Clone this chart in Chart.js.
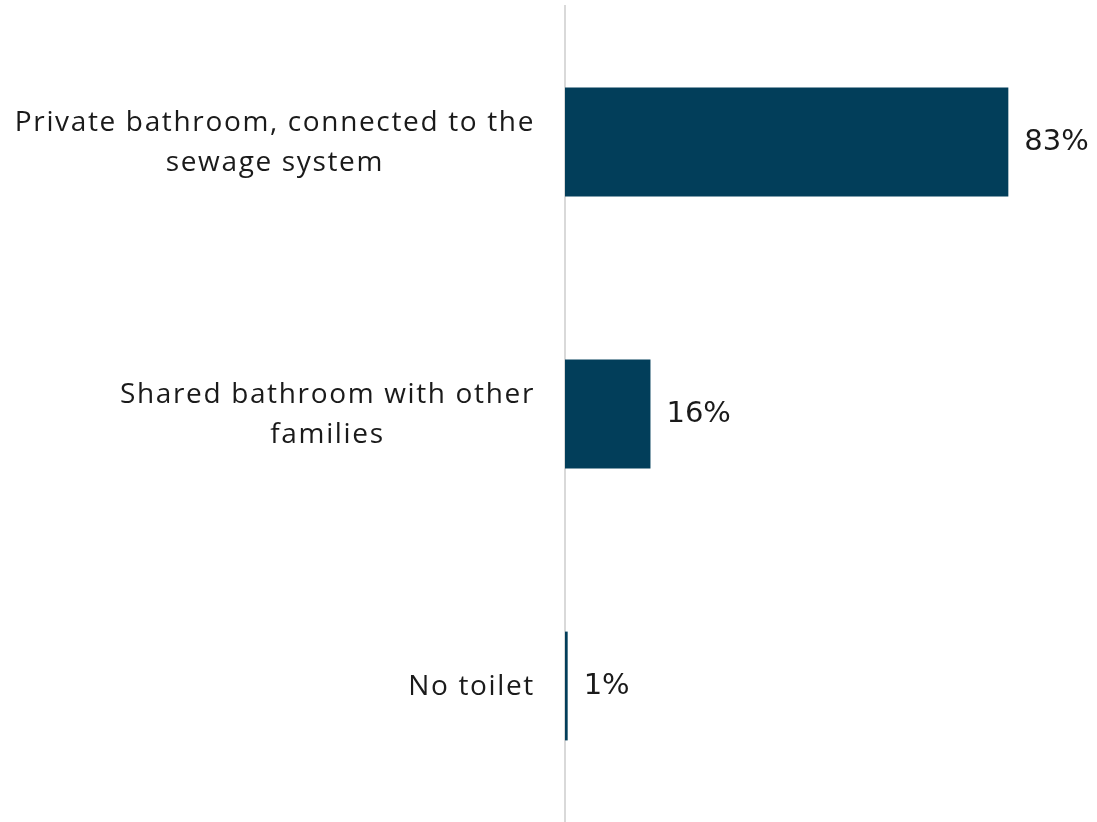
<!DOCTYPE html>
<html>
<head>
<meta charset="utf-8">
<script src="https://cdn.jsdelivr.net/npm/chart.js@4/dist/chart.umd.min.js"></script>
<style>
    body { margin: 0; background: #fff; }
    #wrap { width: 1097px; height: 822px; position: relative; }
</style>
</head>
<body>
<div id="wrap"><canvas id="toiletChart"></canvas></div>
<script>
const categories = [
    ['Private bathroom, connected to the', 'sewage system'],
    ['Shared bathroom with other', 'families'],
    ['No toilet']
];
const shares = [83, 16, 0.5];
const shareLabels = ['83%', '16%', '1%'];

const barColor = '#023e5a';
const textColor = '#1a1a1a';

// category labels: block right-aligned, lines centred inside the block
const categoryLabels = {
    id: 'categoryLabels',
    afterDraw(chart) {
        const ctx = chart.ctx;
        const yScale = chart.scales.y;
        const right = chart.chartArea.left - 30;
        const lineHeight = 40;
        ctx.save();
        ctx.font = '28px "Open Sans"';
        ctx.letterSpacing = '1.65px';
        ctx.fillStyle = textColor;
        ctx.textAlign = 'center';
        ctx.textBaseline = 'middle';
        categories.forEach((lines, i) => {
            const y = yScale.getPixelForTick(i) + 1;
            const widest = Math.max(...lines.map(l => ctx.measureText(l).width));
            const cx = right - widest / 2;
            const top = y - (lines.length - 1) * lineHeight / 2;
            lines.forEach((line, j) => ctx.fillText(line, cx, top + j * lineHeight));
        });
        ctx.restore();
    }
};

const valueLabels = {
    id: 'valueLabels',
    afterDatasetsDraw(chart) {
        const ctx = chart.ctx;
        const meta = chart.getDatasetMeta(0);
        ctx.save();
        ctx.font = '29px "DejaVu Sans"';
        ctx.fillStyle = textColor;
        ctx.textAlign = 'left';
        ctx.textBaseline = 'middle';
        meta.data.forEach((bar, i) => {
            ctx.fillText(shareLabels[i], bar.x + 16, bar.y);
        });
        ctx.restore();
    }
};

document.addEventListener('DOMContentLoaded', () => {
    const toiletCtx = document.getElementById('toiletChart').getContext('2d');
    const toiletChart = new Chart(toiletCtx, {
        type: 'bar',
        data: {
            labels: categories,
            datasets: [{
                data: shares,
                backgroundColor: barColor,
                borderWidth: 0,
                barPercentage: 0.4,
                categoryPercentage: 1
            }]
        },
        options: {
            indexAxis: 'y',
            responsive: true,
            maintainAspectRatio: false,
            animation: false,
            layout: {
                padding: { top: 6, right: 0, bottom: 0, left: 0 }
            },
            scales: {
                x: {
                    display: false,
                    min: 0,
                    max: 99.6
                },
                y: {
                    afterFit(scale) { scale.width = 565; },
                    grid: {
                        display: true,
                        drawOnChartArea: false,
                        drawTicks: false
                    },
                    border: {
                        display: true,
                        color: '#d9d9d9',
                        width: 2
                    },
                    ticks: {
                        display: false
                    }
                }
            },
            plugins: {
                legend: { display: false },
                tooltip: { enabled: false }
            }
        },
        plugins: [categoryLabels, valueLabels]
    });
});
</script>
</body>
</html>
